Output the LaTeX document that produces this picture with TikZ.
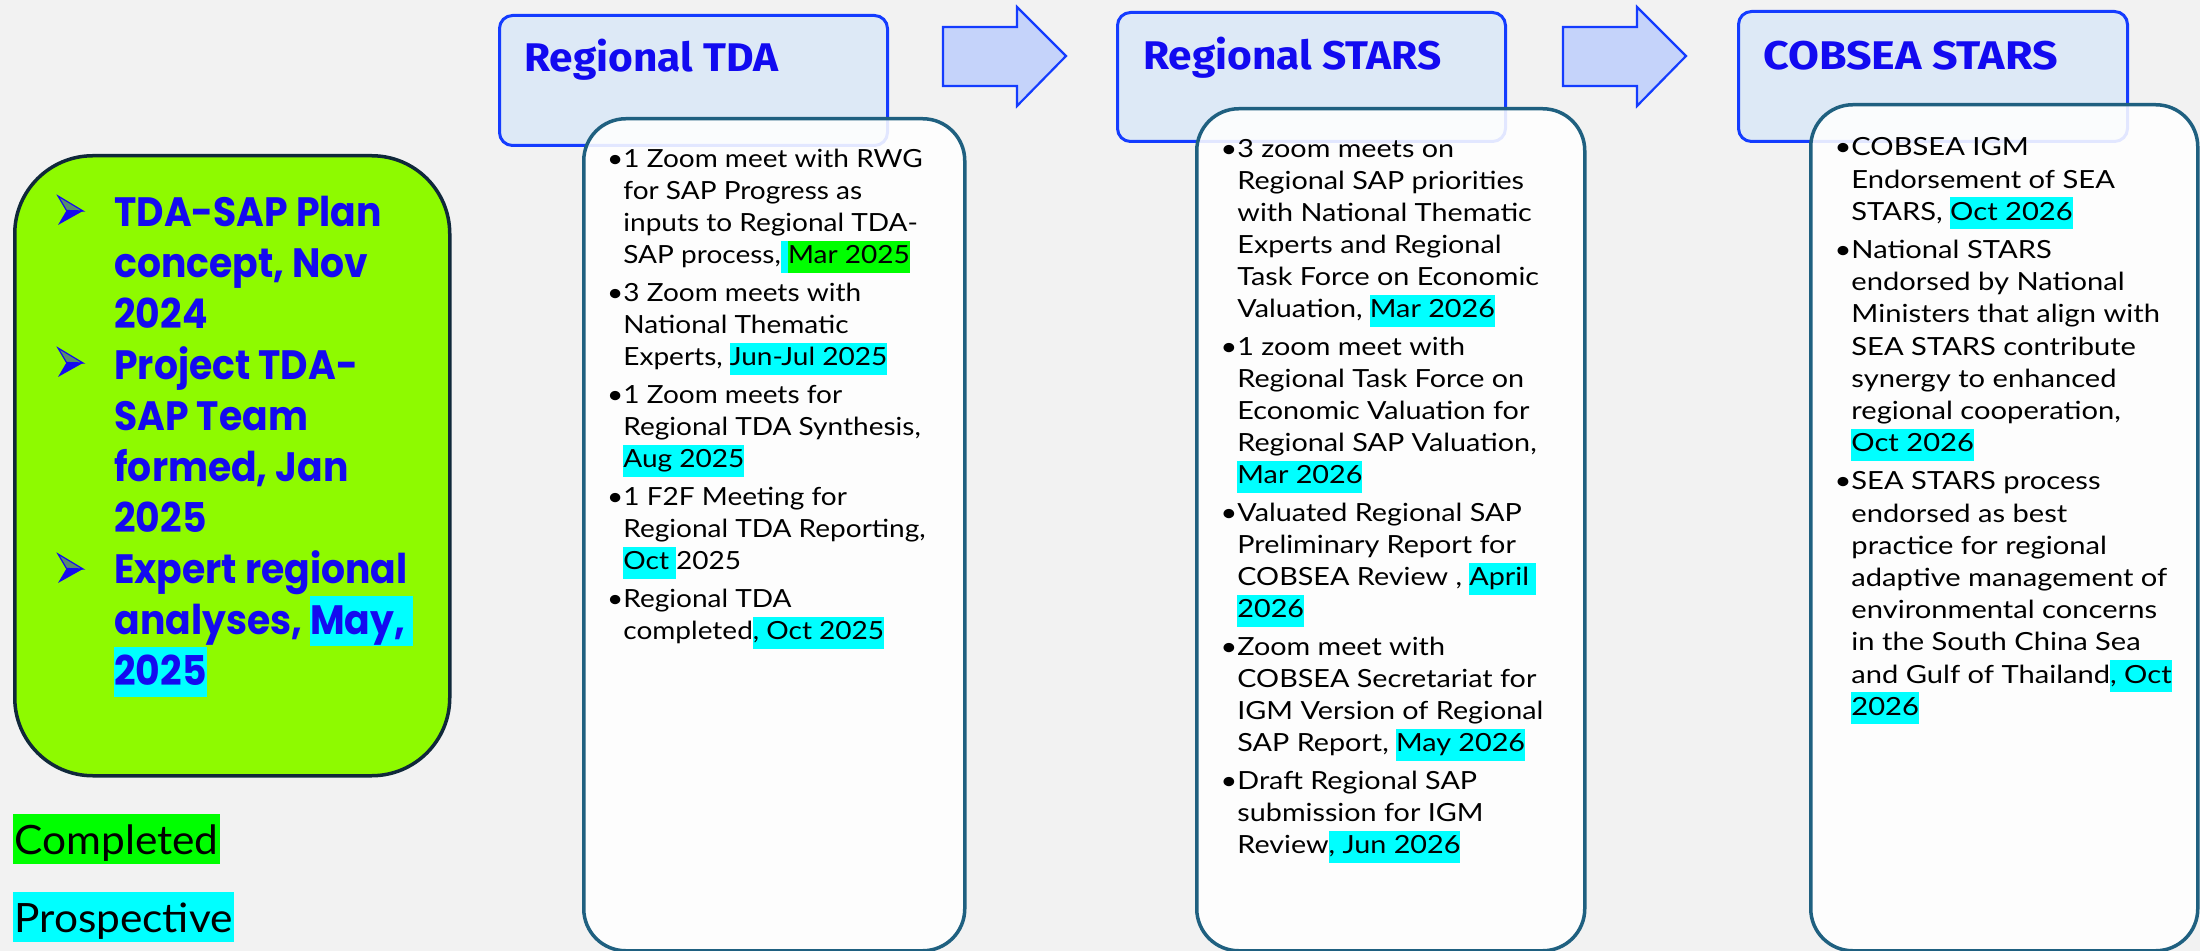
\documentclass[tikz,border=0pt]{standalone}
\usepackage{fontspec}
\setmainfont{Lato}
\newfontfamily\hdrfont{Fira Sans}[FakeStretch=1.06]
\newfontfamily\hdrwidefont{Fira Sans}[FakeStretch=1.12]
\newfontfamily\grnfont{Poppins}[FakeStretch=0.92]
\newfontfamily\bodyAfont{Lato}[FakeStretch=1.12]
\newfontfamily\bodyBfont{Lato}[FakeStretch=1.15]
\newfontfamily\bodyCfont{Lato}[FakeStretch=1.165]
\newfontfamily\legendfont{Lato}[FakeStretch=1.05]
\definecolor{bg}{RGB}{242,242,242}
\definecolor{grnfill}{RGB}{142,250,0}
\definecolor{grnedge}{RGB}{16,40,58}
\definecolor{hdrfill}{RGB}{221,233,246}
\definecolor{hdredge}{RGB}{20,60,255}
\definecolor{hdrtext}{RGB}{18,10,240}
\definecolor{boxedge}{RGB}{31,96,128}
\definecolor{arrfill}{RGB}{197,211,250}
\definecolor{hcyan}{RGB}{0,255,255}
\definecolor{hgreen}{RGB}{0,255,0}
\definecolor{grntext}{RGB}{20,10,240}
\newcommand\hlc[1]{{\setlength{\fboxsep}{0pt}\colorbox{hcyan}{\rule[-4.5pt]{0pt}{16pt}#1}}}
\newcommand\hlg[1]{{\setlength{\fboxsep}{0pt}\colorbox{hgreen}{\rule[-4.5pt]{0pt}{16pt}#1}}}
\newcommand\hlbig[1]{{\setlength{\fboxsep}{0pt}\colorbox{hcyan}{\rule[-6pt]{0pt}{25pt}#1}}}
\newcommand\itm{\par\vspace{3pt}\leavevmode\llap{\textbullet}}
\newcommand\itmfirst{\leavevmode\llap{\textbullet}}
\begin{document}
\begin{tikzpicture}[x=0.5pt,y=-0.5pt,
  hdrbox/.style={draw=hdredge,fill=hdrfill,line width=1.5pt,rounded corners=6.5pt,anchor=north west,inner sep=0pt},
  cbox/.style={draw=boxedge,fill=white,fill opacity=0.88,line width=1.75pt,rounded corners=21pt,anchor=north west,inner sep=0pt},
  gbox/.style={draw=grnedge,fill=grnfill,line width=1.75pt,rounded corners=39pt,anchor=north west,inner sep=0pt},
  hdrlabel/.style={anchor=base west,inner sep=0pt,text=hdrtext},
  bodytext/.style={anchor=base west,inner sep=0pt},
  legend/.style={anchor=base west,inner xsep=0.5pt,inner ysep=0pt,text height=20pt,text depth=5pt,font=\legendfont\fontsize{20.2pt}{24pt}\selectfont},
  blockarrow/.style={draw=hdredge,fill=arrfill,line width=1.1pt,line join=miter},
  ahbullet/.pic={
    \fill[grntext] (8.5,14.5) -- (25,15) -- (0,29) -- cycle;
    \filldraw[draw=grntext,fill=grntext!45!grnfill,line width=0.6pt] (0,0) -- (25,15) -- (8.5,14.5) -- cycle;
  }]
\useasboundingbox (0,0) rectangle (2200,951);
\fill[bg] (0,0) rectangle (2200,951);

% green summary box
\node[gbox,minimum width=217.5pt,minimum height=310pt] (green) at (13,154) {};
\pic at (58,196) {ahbullet};
\pic at (58,348) {ahbullet};
\pic at (58,554) {ahbullet};
\node[bodytext,text=grntext,font=\grnfont\bfseries] (greentext) at (114,227) {\begin{minipage}[t]{180pt}\fontsize{20.5pt}{25.45pt}\selectfont
TDA-SAP Plan\\concept, Nov\\2024\par
Project TDA-\\SAP Team\\formed, Jan\\2025\par
Expert regional\\analyses, \hlbig{May,\ }\\\hlbig{2025}\end{minipage}};

% legend
\node[legend,fill=hgreen] (lcompleted) at (13,854) {Completed};
\node[legend,fill=hcyan] (lprospective) at (13,932) {Prospective};

% headers
\node[hdrbox,minimum width=194pt,minimum height=65pt] (h1) at (498,14) {};
\node[hdrbox,minimum width=194pt,minimum height=64.5pt] (h2) at (1116,11) {};
\node[hdrbox,minimum width=194.5pt,minimum height=65pt] (h3) at (1737,10) {};

% block arrows
\draw[blockarrow] (943,27) -- (1017,27) -- (1017,7) -- (1066,56) -- (1017,106) -- (1017,86) -- (943,86) -- cycle;
\draw[blockarrow] (1563,27) -- (1637,27) -- (1637,7) -- (1686,56) -- (1637,106) -- (1637,86) -- (1563,86) -- cycle;

% content boxes
\node[cbox,minimum width=190.5pt,minimum height=416pt] (c1) at (582,117) {};
\node[cbox,minimum width=194pt,minimum height=421pt] (c2) at (1195,107) {};
\node[cbox,minimum width=193.5pt,minimum height=423pt] (c3) at (1809,103) {};

% header labels
\node[hdrlabel,font=\hdrfont\bfseries\fontsize{20pt}{24pt}\selectfont] (t1) at (524,72) {Regional TDA};
\node[hdrlabel,font=\hdrfont\bfseries\fontsize{20pt}{24pt}\selectfont] (t2) at (1143,70) {Regional STARS};
\node[hdrlabel,font=\hdrwidefont\bfseries\fontsize{20pt}{24pt}\selectfont] (t3) at (1763,70) {COBSEA STARS};

% box texts
\node[bodytext,font=\bodyAfont] (b1) at (623,168) {\begin{minipage}[t]{175pt}\fontsize{12.5pt}{16pt}\selectfont
\itmfirst 1 Zoom meet with RWG\\for SAP Progress as\\inputs to Regional TDA-\\SAP process,\hlc{ }\hlg{Mar 2025}
\itm 3 Zoom meets with\\National Thematic\\Experts, \hlc{Jun-Jul 2025}
\itm 1 Zoom meets for\\Regional TDA Synthesis,\\\hlc{Aug 2025}
\itm 1 F2F Meeting for\\Regional TDA Reporting,\\\hlc{Oct }2025
\itm Regional TDA\\completed\hlc{, Oct 2025}
\end{minipage}};

\node[bodytext,font=\bodyBfont] (b2) at (1237,158) {\begin{minipage}[t]{175pt}\fontsize{12.5pt}{16pt}\selectfont
\itmfirst 3 zoom meets on\\Regional SAP priorities\\with National Thematic\\Experts and Regional\\Task Force on Economic\\Valuation, \hlc{Mar 2026}
\itm 1 zoom meet with\\Regional Task Force on\\Economic Valuation for\\Regional SAP Valuation,\\\hlc{Mar 2026}
\itm Valuated Regional SAP\\Preliminary Report for\\COBSEA Review , \hlc{April }\\\hlc{2026}
\itm Zoom meet with\\COBSEA Secretariat for\\IGM Version of Regional\\SAP Report, \hlc{May 2026}
\itm Draft Regional SAP\\submission for IGM\\Review\hlc{, Jun 2026}
\end{minipage}};

\node[bodytext,font=\bodyCfont] (b3) at (1851,156) {\begin{minipage}[t]{175pt}\fontsize{12.5pt}{16.1pt}\selectfont
\itmfirst COBSEA IGM\\Endorsement of SEA\\STARS, \hlc{Oct 2026}
\itm National STARS\\endorsed by National\\Ministers that align with\\SEA STARS contribute\\synergy to enhanced\\regional cooperation,\\\hlc{Oct 2026}
\itm SEA STARS process\\endorsed as best\\practice for regional\\adaptive management of\\environmental concerns\\in the South China Sea\\and Gulf of Thailand\hlc{, Oct}\\\hlc{2026}
\end{minipage}};
\end{tikzpicture}
\end{document}
